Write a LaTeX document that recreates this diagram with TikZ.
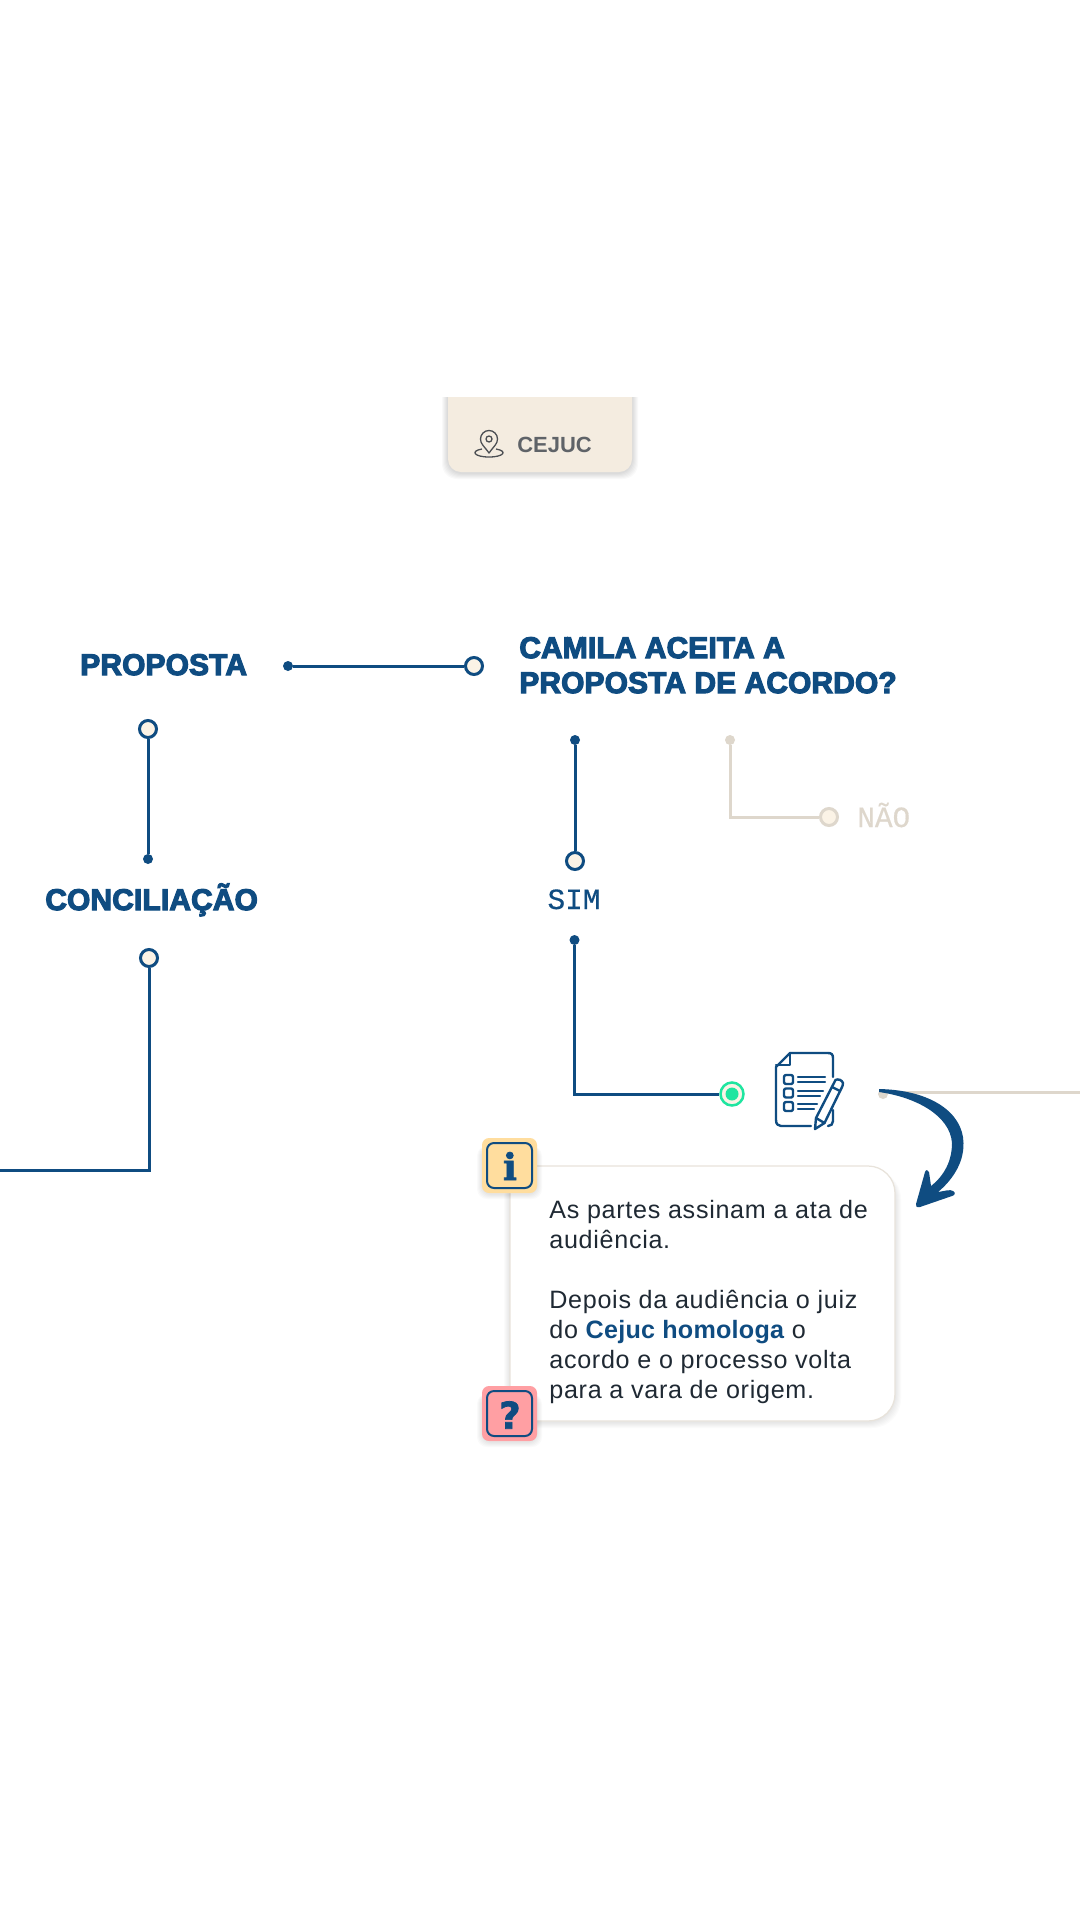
\documentclass[tikz,border=0pt]{standalone}
\usepackage{fontspec}
\setmainfont[LetterSpace=2.8]{Liberation Sans}
\newfontfamily\headfont[FakeBold=4,LetterSpace=0.6]{Liberation Sans Bold}
\newfontfamily\boldfont{Liberation Sans Bold}
\newfontfamily\strongfont[LetterSpace=1]{Liberation Sans Bold}
\newfontfamily\monofont[FakeBold=0.4]{Liberation Mono}
\newfontfamily\glyphfont[FakeBold=2]{DejaVu Serif Bold}
\newfontfamily\markfont[FakeBold=2]{DejaVu Sans Bold}

\definecolor{navy}{HTML}{0F4C81}
\definecolor{sand}{HTML}{DED7CC}
\definecolor{cream}{HTML}{FBF3E6}
\definecolor{tag}{HTML}{F4ECE0}
\definecolor{mint}{HTML}{1FE5A0}
\definecolor{ink}{HTML}{1F2933}
\definecolor{slate}{HTML}{5F6368}

\tikzset{
    link/.style={draw=navy,line width=0.06cm},
    linksand/.style={draw=sand,line width=0.06cm},
    dotnavy/.style={circle,fill=navy,inner sep=0,minimum size=0.2cm},
    dotsand/.style={circle,fill=sand,inner sep=0,minimum size=0.2cm},
    ringnavy/.style={circle,draw=navy,fill=cream,line width=0.06cm,inner sep=0,minimum size=0.34cm},
    ringsand/.style={circle,draw=sand,fill=cream,line width=0.06cm,inner sep=0,minimum size=0.34cm},
    head/.style={font=\headfont\fontsize{17}{19.9}\selectfont,text=navy,inner sep=0,align=left},
    answer/.style={font=\monofont\fontsize{16.7}{20}\selectfont,inner sep=0},
    body/.style={font=\fontsize{14.3}{17.07}\selectfont,text=ink,inner sep=0,align=left},
    iconpen/.style={draw=navy,line width=0.048cm,line join=round,line cap=round},
    badge/.style={rounded corners=0.14cm},
    badgein/.style={draw=navy,line width=0.04cm,rounded corners=0.14cm}
}

\begin{document}
\begin{tikzpicture}[x=0.02cm,y=-0.02cm]
    \useasboundingbox (0,0) rectangle (1080,1920);
    \fill[white] (0,0) rectangle (1080,1920);

    % local tag
    \begin{scope}
        \clip (420,397) rectangle (660,500);
        \foreach \g in {1,...,6}
            \fill[black,opacity=0.025,rounded corners=0.3cm] (448-\g,380) rectangle (632+\g,472+\g+1);
        \fill[tag,rounded corners=0.26cm] (448,370) rectangle (632,472);
    \end{scope}
    \node[font=\boldfont\fontsize{12.5}{16}\selectfont,text=slate,inner sep=0,anchor=base west] (tagCejuc) at (517,452) {CEJUC};
    \draw[slate!80!black,line width=0.026cm,line join=round] (489,453) .. controls (484,446) and (480.5,444) .. (480.5,439) arc (180:360:8.5) .. controls (497.5,444) and (494,446) .. (489,453) -- cycle;
    \draw[slate!80!black,line width=0.026cm] (489,439) circle (3);
    \draw[slate!80!black,line width=0.026cm] (482,449) .. controls (470,451) and (474,457) .. (489,457) .. controls (504,457) and (508,451) .. (496,449);

    % titles
    \node[head,anchor=base west] (titleProposta) at (80,675) {PROPOSTA};
    \node[head,anchor=base west] (titleConcil) at (45,910) {CONCILIAÇÃO};
    \node[head,anchor=base west] (titleCamila) at (519,693) {CAMILA ACEITA A\\PROPOSTA DE ACORDO?};

    % connectors in navy
    \node[dotnavy] (dotProp) at (288,666) {};
    \node[ringnavy] (ringProp) at (474,666) {};
    \draw[link] (dotProp) -- (ringProp);

    \node[ringnavy] (ringConcilTop) at (148,729) {};
    \node[dotnavy] (dotConcilTop) at (148,859) {};
    \draw[link] (ringConcilTop) -- (dotConcilTop);

    \node[ringnavy] (ringConcil) at (149,958) {};
    \coordinate (edgeLeft) at (0,1170);
    \draw[link] (ringConcil) |- (edgeLeft);

    \node[dotnavy] (dotSim) at (575,740) {};
    \node[ringnavy] (ringSim) at (575,861) {};
    \draw[link] (dotSim) -- (ringSim);
    \node[answer,text=navy,anchor=base] (labelSim) at (574,909) {SIM};

    \node[dotnavy] (dotSimB) at (574.5,940) {};
    \node[circle,draw=mint,fill=cream,line width=0.05cm,inner sep=0,minimum size=0.46cm] (ringAta) at (732,1094) {};
    \fill[mint] (ringAta.center) circle (6.5);
    \draw[link] (dotSimB) |- (ringAta);

    % connectors in sand
    \node[dotsand] (dotNao) at (730,740) {};
    \node[ringsand] (ringNao) at (829,817) {};
    \draw[linksand] (dotNao) |- (ringNao);
    \node[answer,text=sand,anchor=base west] (labelNao) at (857,827) {NÃO};

    \node[dotsand] (dotAta) at (883,1094) {};
    \coordinate (edgeRight) at (1080,1092);
    \draw[linksand] (dotAta.center |- edgeRight) -- (edgeRight);

    % document
    \draw[iconpen] (833,1077) -- (833,1058) .. controls (833,1054.5) and (831.5,1053) .. (828,1053) -- (790,1053) -- (776,1067) -- (776,1120) .. controls (776,1124) and (778,1126) .. (781,1126) -- (811,1126);
    \draw[iconpen] (790,1053) -- (790,1065) -- (776,1065);
    \draw[iconpen] (833,1110) -- (833,1121) .. controls (833,1124) and (831,1126) .. (828,1126);
    \foreach \y in {1075,1088.5,1102}
        \draw[iconpen,rounded corners=0.04cm] (784,\y) rectangle (793,\y+9);
    \foreach \y/\a/\b in {1077/825/825,1091/823/820,1104/817/814} {
        \draw[iconpen] (798,\y) -- (\a,\y);
        \draw[iconpen] (798,\y+5) -- (\b,\y+5);
    }
    \draw[iconpen,fill=white] (835.5,1080) .. controls (838,1078.5) and (842,1080) .. (843,1083) .. controls (843.5,1084) and (843,1085) .. (842.5,1086) -- (824.5,1123) -- (815,1129) -- (816,1118) -- cycle;
    \draw[iconpen] (832,1087) -- (840,1091);
    \draw[iconpen] (816,1118) -- (824.5,1123);

    % card
    \foreach \g in {1,...,6}
        \fill[black,opacity=0.016,rounded corners=0.58cm] (510-\g,1170) rectangle (895+\g,1421+\g+1);
    \fill[white,draw=sand!70,line width=0.025cm,rounded corners=0.54cm] (510,1166) rectangle (895,1421);
    \node[body,anchor=base west] (cardText) at (549,1398) {As partes assinam a ata de\\audiência.\\[17.07pt]Depois da audiência o juiz\\do {\strongfont\color{navy}Cejuc homologa} o\\acordo e o processo volta\\para a vara de origem.};

    % badges
    \foreach \g in {1,...,5}
        \fill[black,opacity=0.02,rounded corners=0.2cm] (482-\g,1146) rectangle (537+\g,1193+\g+1);
    \fill[badge,fill={rgb,255:red,255;green,221;blue,158}] (482,1138) rectangle (537,1193);
    \draw[badgein] (487,1143) rectangle (532,1188);
    \node[font=\glyphfont\fontsize{21}{24}\selectfont,text=navy,inner sep=0] (markInfo) at (510,1166) {i};

    \foreach \g in {1,...,5}
        \fill[black,opacity=0.02,rounded corners=0.2cm] (482-\g,1394) rectangle (537+\g,1441+\g+1);
    \fill[badge,fill={rgb,255:red,255;green,159;blue,163}] (482,1386) rectangle (537,1441);
    \draw[badgein] (487,1391) rectangle (532,1436);
    \node[font=\markfont\fontsize{21}{24}\selectfont,text=navy,inner sep=0] (markHelp) at (510,1415) {?};

    % swoosh
    \fill[navy] (879,1089) .. controls (930,1090) and (963,1112) .. (963.5,1143) .. controls (964,1165) and (950,1182) .. (938,1192) .. controls (945,1191) and (950,1189) .. (953,1191) .. controls (956,1193) and (955,1195) .. (952,1196) -- (920,1207) .. controls (917,1208) and (915,1206) .. (916,1204) -- (925,1172) .. controls (926,1169) and (928,1170) .. (929,1172) -- (931,1186) .. controls (945,1175) and (952,1160) .. (952,1143) .. controls (950,1115) and (915,1097) .. (879,1092) -- cycle;
\end{tikzpicture}
\end{document}
